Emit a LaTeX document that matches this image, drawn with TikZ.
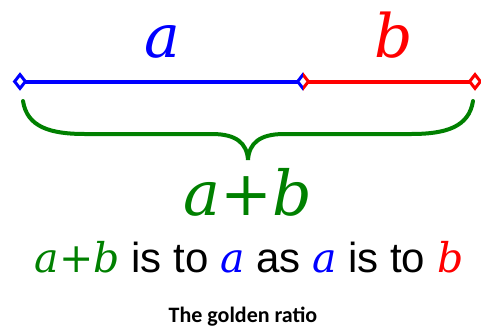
\documentclass[tikz,border=0pt]{standalone}
\usetikzlibrary{shapes.geometric}
\usepackage{fontspec}
\setmainfont{Liberation Sans}
\newfontfamily\lserif{DejaVu Serif}
\newfontfamily\carlito{Carlito}
\definecolor{gblue}{RGB}{0,0,255}
\definecolor{gred}{RGB}{255,0,0}
\definecolor{ggreen}{RGB}{0,128,0}
\newcommand{\vi}[1]{{\fontsize{41}{41}\selectfont\lserif\itshape #1}}
\begin{document}
\begin{tikzpicture}[x=1pt,y=-1pt,
  seg/.style={line width=4pt},
  endmark/.style={draw, fill=white, line width=3pt, diamond, inner sep=0pt, minimum width=12pt, minimum height=15pt},
  bigletter/.style={font=\fontsize{60}{60}\selectfont\lserif\itshape, inner sep=0pt, anchor=base},
  sumlabel/.style={font=\fontsize{62}{62}\selectfont\lserif, inner sep=0pt, anchor=base, text=ggreen},
  sentence/.style={font=\fontsize{42}{42}\selectfont, inner sep=0pt, anchor=base},
  caption/.style={font=\fontsize{22}{22}\selectfont\carlito\bfseries, inner sep=0pt, anchor=base}
]
\useasboundingbox (0,0) rectangle (481,327);
\coordinate (L) at (20,81.5);
\coordinate (M) at (303,81.5);
\coordinate (R) at (475,81.5);
\draw[seg, gblue] (L) -- (M);
\draw[seg, gred] (M) -- (R);
\node[endmark, draw=gblue] (dl) at (L) {};
\node[endmark, draw=gred] (dr) at (R) {};
\begin{scope}
  \clip (M) ++(-14,-14) rectangle ++(14,28);
  \node[endmark, draw=gblue] (dm1) at (M) {};
\end{scope}
\begin{scope}
  \clip (M) ++(0,-14) rectangle ++(14,28);
  \node[endmark, draw=gred] (dm2) at (M) {};
\end{scope}
\node[bigletter, text=gblue] (la) at (162,57) {a};
\node[bigletter, text=gred] (lb) at (394,57) {b};
% brace
\draw[ggreen, line width=4pt, line cap=round]
  (23,101) .. controls (27,127) and (50,134) .. (85,134)
  -- (212,134) .. controls (236,134) and (247,143) .. (248,160)
  .. controls (249,143) and (260,134) .. (284,134)
  -- (411,134) .. controls (446,134) and (469,127) .. (473,101);
\node[sumlabel] (sum) at (248,215) {\itshape a\upshape +\itshape b};
\node[sentence] (sent) at (249,272) {\textcolor{ggreen}{\vi{a}{\fontsize{41}{41}\selectfont\lserif+}\vi{b}} is to \textcolor{gblue}{\vi{a}} as \textcolor{gblue}{\vi{a}} is to \textcolor{gred}{\vi{b}}};
\node[caption] (cap) at (243,322) {The golden ratio};
\end{tikzpicture}
\end{document}
